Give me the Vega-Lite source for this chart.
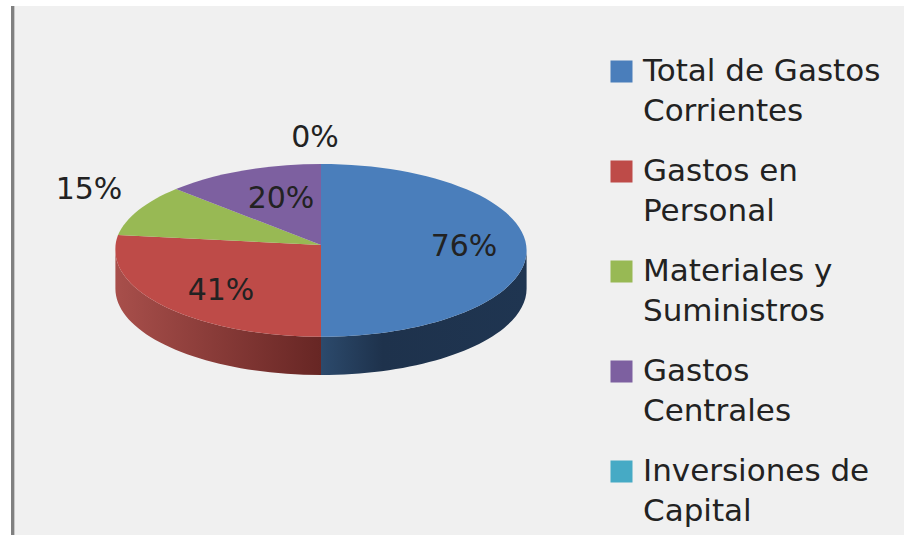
{
"$schema":"https://vega.github.io/schema/vega-lite/v6.json",
"width":893,"height":529,
"autosize":{"type":"none"},
"padding":{"left":11,"top":6,"right":0,"bottom":0},
"background":"#ffffff",
"view":{"fill":"#f0f0f0","stroke":null},
"data":{"values":[
{"categoria":"Total de Gastos Corrientes","pct":76,"etiqueta":"76%"},
{"categoria":"Gastos en Personal","pct":41,"etiqueta":"41%"},
{"categoria":"Materiales y Suministros","pct":15,"etiqueta":"15%"},
{"categoria":"Gastos Centrales","pct":20,"etiqueta":"20%"},
{"categoria":"Inversiones de Capital","pct":0,"etiqueta":"0%"}
]},
"layer":[
{"mark":{"type":"point","filled":true,"shape":"square","size":1,"opacity":0},
 "encoding":{
  "color":{"field":"categoria","type":"nominal","sort":null,
   "scale":{"domain":["Total de Gastos Corrientes","Gastos en Personal","Materiales y Suministros","Gastos Centrales","Inversiones de Capital"],
            "range":["#4a7ebb","#be4b48","#98b954","#7d60a0","#46aac5"]},
   "legend":{"title":null,"orient":"none","legendX":595,"legendY":50,"symbolType":"square","symbolSize":484,"symbolStrokeWidth":0,"symbolOpacity":1,
     "labelFont":"DejaVu Sans","labelFontSize":31,"labelColor":"#222222","labelOffset":6,"labelLimit":300,"rowPadding":28,"columns":1,
     "encoding":{"labels":{"lineHeight":{"value":40}}},
     "labelExpr":"split(replace(replace(replace(replace(replace(datum.label,'Gastos Corrientes','Gastos|Corrientes'),'en Personal','en|Personal'),'y Suministros','y|Suministros'),'Gastos Centrales','Gastos|Centrales'),'de Capital','de|Capital'),'|')"}}
 }},
{"mark":{"type":"rule","color":"#808080","strokeWidth":3},"encoding":{"x":{"value":1.5}}},
{"mark":{"type":"rule","color":"#c8c8c8","strokeWidth":1},"encoding":{"x":{"value":3.5}}},
{"transform":[{"filter":"datum.categoria==='Total de Gastos Corrientes'"}],
 "mark":{"type":"point","filled":true,"opacity":1,"size":4,"shape":"M69.1,-20A205.6,86.35 0 0 1 -136.5,66.2L-136.5,104.5A205.6,86.35 0 0 0 69.1,18.3Z",
 "fill":{"gradient":"linear","x1":0,"y1":0,"x2":1,"y2":0,"stops":[{"offset":0,"color":"#2c4a6c"},{"offset":0.3,"color":"#1e324c"},{"offset":1,"color":"#1f3551"}]}},"encoding":{}},
{"transform":[{"filter":"datum.categoria==='Gastos en Personal'"}],
 "mark":{"type":"point","filled":true,"opacity":1,"size":4,"shape":"M-136.5,66.2A205.6,86.35 0 0 1 -342.1,-20L-342.1,18.3A205.6,86.35 0 0 0 -136.5,104.5Z",
 "fill":{"gradient":"linear","x1":0,"y1":0,"x2":1,"y2":0,"stops":[{"offset":0,"color":"#a84f4b"},{"offset":1,"color":"#672624"}]}},"encoding":{}},
{"transform":[{"filter":"datum.categoria==='Total de Gastos Corrientes'"}],
 "mark":{"type":"point","filled":true,"opacity":1,"size":4,"fill":"#4a7ebb","shape":"M-136.5,-25.5L-136.5,-106.5A205.6,86.35 0 0 1 69.1,-20A205.6,86.35 0 0 1 -136.5,66.2Z"},"encoding":{}},
{"transform":[{"filter":"datum.categoria==='Gastos en Personal'"}],
 "mark":{"type":"point","filled":true,"opacity":1,"size":4,"fill":"#be4b48","shape":"M-136.5,-25.5L-136.5,66.2A205.6,86.35 0 0 1 -342.1,-20A205.6,86.35 0 0 1 -339.5,-35.5Z"},"encoding":{}},
{"transform":[{"filter":"datum.categoria==='Materiales y Suministros'"}],
 "mark":{"type":"point","filled":true,"opacity":1,"size":4,"fill":"#98b954","shape":"M-136.5,-25.5L-339.5,-35.5A205.6,86.35 0 0 1 -281.5,-81.5Z"},"encoding":{}},
{"transform":[{"filter":"datum.categoria==='Gastos Centrales'"}],
 "mark":{"type":"point","filled":true,"opacity":1,"size":4,"fill":"#7d60a0","shape":"M-136.5,-25.5L-281.5,-81.5A205.6,86.35 0 0 1 -136.5,-106.5Z"},"encoding":{}},
{"mark":{"type":"text","font":"DejaVu Sans","fontSize":30,"color":"#222222","align":"center","baseline":"middle"},
 "encoding":{
  "text":{"field":"etiqueta","type":"nominal"},
  "x":{"field":"pct","type":"quantitative","axis":null,"scale":{"domain":[0,15,20,41,76],"range":[304,78,270,210,453]}},
  "y":{"field":"pct","type":"quantitative","axis":null,"scale":{"domain":[0,15,20,41,76],"range":[132,184,193,285,241]}}
 }}
]
}
